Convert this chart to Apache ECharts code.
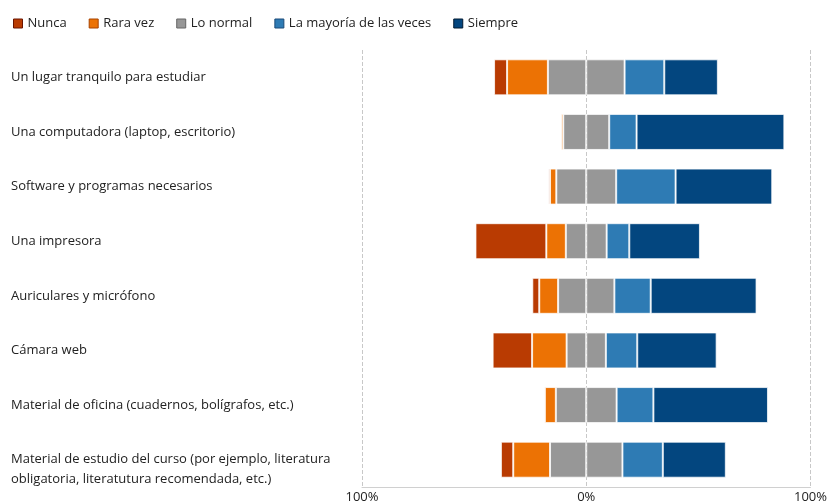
<!DOCTYPE html>
<html><head><meta charset="utf-8">
<script src="https://cdn.jsdelivr.net/npm/echarts@6/dist/echarts.min.js"></script>
<style>html,body{margin:0;padding:0;background:#fff;overflow:hidden}#c{width:830px;height:504px}</style>
</head><body><div id="c"></div>
<script>
const categories = [
  'Un lugar tranquilo para estudiar',
  'Una computadora (laptop, escritorio)',
  'Software y programas necesarios',
  'Una impresora',
  'Auriculares y micrófono',
  'Cámara web',
  'Material de oficina (cuadernos, bolígrafos, etc.)',
  'Material de estudio del curso (por ejemplo, literatura\nobligatoria, literatutura recomendada, etc.)'
];
const nunca    = [0.058, 0.004, 0.007, 0.316, 0.031, 0.176, 0.005, 0.055];
const raraVez  = [0.182, 0.009, 0.028, 0.087, 0.084, 0.154, 0.049, 0.164];
const loNormal = [0.342, 0.205, 0.267, 0.182, 0.251, 0.175, 0.271, 0.323];
const mayoria  = [0.177, 0.122, 0.265, 0.101, 0.162, 0.140, 0.164, 0.180];
const siempre  = [0.239, 0.659, 0.431, 0.315, 0.472, 0.354, 0.511, 0.281];
const tickValues = [-1, 0, 1];

const FONT = 'Open Sans';
const colors = {
  nunca: '#b93b02', rara: '#ec7204', normal: '#979797', mayoria: '#2e7bb4', siempre: '#03467f'
};
const border = { borderColor: 'rgba(255,255,255,0.75)', borderWidth: 1 };
const barW = 36;

function bar(name, data, color) {
  return {
    name, type: 'bar', stack: 'total', barWidth: barW, data,
    itemStyle: Object.assign({ color }, border),
    emphasis: { disabled: true }
  };
}

const option = {
  animation: false,
  textStyle: { fontFamily: FONT },
  legend: {
    top: 12, left: 8, itemWidth: 9, itemHeight: 9, itemGap: 22,
    icon: 'rect',
    textStyle: { fontFamily: FONT, fontSize: 13, color: '#222' },
    data: [
      { name: 'Nunca', itemStyle: { color: colors.nunca, borderColor: '#6b1500', borderWidth: 1 } },
      { name: 'Rara vez', itemStyle: { color: colors.rara, borderColor: '#a84400', borderWidth: 1 } },
      { name: 'Lo normal', itemStyle: { color: colors.normal, borderColor: '#666', borderWidth: 1 } },
      { name: 'La mayoría de las veces', itemStyle: { color: colors.mayoria, borderColor: '#1a4a78', borderWidth: 1 } },
      { name: 'Siempre', itemStyle: { color: colors.siempre, borderColor: '#011a33', borderWidth: 1 } }
    ]
  },
  grid: { left: 362, right: 16, top: 50, bottom: 16, containLabel: false },
  xAxis: {
    type: 'value', min: -1, max: 1, interval: 1,
    axisLine: { show: true, lineStyle: { color: '#d0d0d0' } },
    axisTick: { show: false },
    splitLine: { show: true, lineStyle: { type: 'dashed', color: '#c8c8c8' } },
    axisLabel: {
      margin: 4, fontSize: 13, color: '#222', fontFamily: FONT,
      formatter: v => (tickValues.includes(v) ? Math.round(Math.abs(v) * 100) + '%' : '')
    }
  },
  yAxis: {
    type: 'category', data: categories, inverse: true,
    axisLine: { show: false }, axisTick: { show: false },
    axisLabel: {
      align: 'left', margin: 351, fontSize: 13, lineHeight: 20, color: '#222', fontFamily: FONT,
      formatter: v => (v.indexOf('\n') >= 0 ? '\n' + v : v)
    }
  },
  series: [
    bar('Lo normal', loNormal.map(v => -v / 2), colors.normal),
    bar('Lo normal', loNormal.map(v => v / 2), colors.normal),
    bar('Rara vez', raraVez.map(v => -v), colors.rara),
    bar('Nunca', nunca.map(v => -v), colors.nunca),
    bar('La mayoría de las veces', mayoria, colors.mayoria),
    bar('Siempre', siempre, colors.siempre)
  ]
};
const chart = echarts.init(document.getElementById('c'), null, { width: 830, height: 504 });
chart.setOption(option);
</script>
</body></html>
